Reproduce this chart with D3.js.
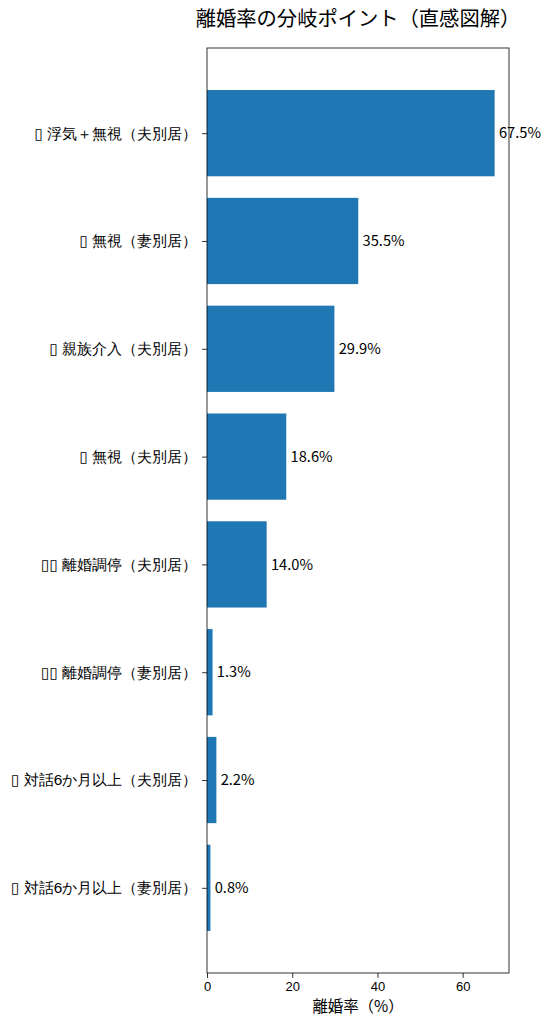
<!DOCTYPE html>
<html>
<head>
<meta charset="utf-8">
<script src="https://cdn.jsdelivr.net/npm/d3@7"></script>
<style>
  body { margin: 0; background: #fff; }
  svg { display: block; font-family: "Noto Sans CJK JP", "Noto Sans", "DejaVu Sans", sans-serif; text-spacing-trim: space-all; }
  .box { font-family: "DejaVu Sans"; }
</style>
</head>
<body>
<div id="chart"></div>
<script>
// categories (top to bottom) and divorce rates in %
// (the emoji of the original render as empty boxes there)
const categories = [
    "▯ 浮気＋無視（夫別居）",
    "▯ 無視（妻別居）",
    "▯ 親族介入（夫別居）",
    "▯ 無視（夫別居）",
    "▯▯ 離婚調停（夫別居）",
    "▯▯ 離婚調停（妻別居）",
    "▯ 対話6か月以上（夫別居）",
    "▯ 対話6か月以上（妻別居）"
];
const rates = [67.5, 35.5, 29.9, 18.6, 14.0, 1.3, 2.2, 0.8];
const xTicks = [0, 20, 40, 60];

const title = "離婚率の分岐ポイント（直感図解）";
const xLabel = "離婚率（%）";

const width = 551, height = 1024;
const margin = {top: 48, right: 42, bottom: 51, left: 207};
const fs = "15.4px";

const svg = d3.select("#chart").append("svg")
    .attr("width", width)
    .attr("height", height);

const x = d3.scaleLinear()
    .domain([0, d3.max(rates) * 1.05])
    .range([margin.left, width - margin.right]);

// matplotlib-like band: bar height 0.8, 5% margins
const n = categories.length;
const y = d3.scaleLinear()
    .domain([-0.4 - 0.05 * (n - 0.2), n - 0.6 + 0.05 * (n - 0.2)])
    .range([margin.top, height - margin.bottom]);
const barH = y(0.8) - y(0);

const data = categories.map((c, i) => ({cat: c, rate: rates[i], i: i}));

svg.append("g")
    .selectAll("rect")
    .data(data)
    .join("rect")
    .attr("x", x(0))
    .attr("y", d => y(d.i) - barH / 2)
    .attr("width", d => x(d.rate) - x(0))
    .attr("height", barH)
    .attr("fill", "#1f77b4");

// value labels
svg.append("g")
    .style("font-size", "14.7px")
    .selectAll("text")
    .data(data)
    .join("text")
    .attr("x", d => x(d.rate + 1))
    .attr("y", d => y(d.i))
    .attr("dy", "0.35em")
    .attr("fill", "#000")
    .text(d => d.rate.toFixed(1) + "%");

// frame
svg.append("rect")
    .attr("x", x.range()[0])
    .attr("y", margin.top)
    .attr("width", x.range()[1] - x.range()[0])
    .attr("height", height - margin.bottom - margin.top)
    .attr("fill", "none")
    .attr("stroke", "#000")
    .attr("stroke-width", 0.8);

// x axis
const xAxis = svg.append("g")
    .attr("transform", `translate(0,${height - margin.bottom})`)
    .call(d3.axisBottom(x).tickValues(xTicks).tickSize(4.9).tickPadding(4).tickFormat(d3.format("d")));
xAxis.select(".domain").remove();
xAxis.selectAll("line").attr("stroke", "#000").attr("stroke-width", 0.8);
xAxis.selectAll("text").style("font-size", "13px").style("font-family", null).attr("fill", "#000");

// y axis
const yAxis = svg.append("g")
    .attr("transform", `translate(${margin.left},0)`)
    .call(d3.axisLeft(y).tickValues(d3.range(n)).tickSize(4.9).tickPadding(4.9).tickFormat(""));
yAxis.select(".domain").remove();
yAxis.selectAll("line").attr("stroke", "#000").attr("stroke-width", 0.8);
const yText = yAxis.selectAll("text").style("font-size", fs).style("font-family", null).attr("fill", "#000");
// split the box glyphs into their own tspan so they stay plain boxes
yText.each(function(i) {
    const m = categories[i].match(/^(▯+)(.*)$/);
    const t = d3.select(this);
    t.append("tspan").attr("class", "box").text(m[1]);
    t.append("tspan").text(m[2]);
});

// title
svg.append("text")
    .attr("x", (x.range()[0] + x.range()[1]) / 2)
    .attr("y", 26)
    .attr("text-anchor", "middle")
    .style("font-size", "20.3px")
    .attr("fill", "#000")
    .text(title);

// x label
svg.append("text")
    .attr("x", (x.range()[0] + x.range()[1]) / 2)
    .attr("y", 1012)
    .attr("text-anchor", "middle")
    .style("font-size", fs)
    .attr("fill", "#000")
    .text(xLabel);
</script>
</body>
</html>
